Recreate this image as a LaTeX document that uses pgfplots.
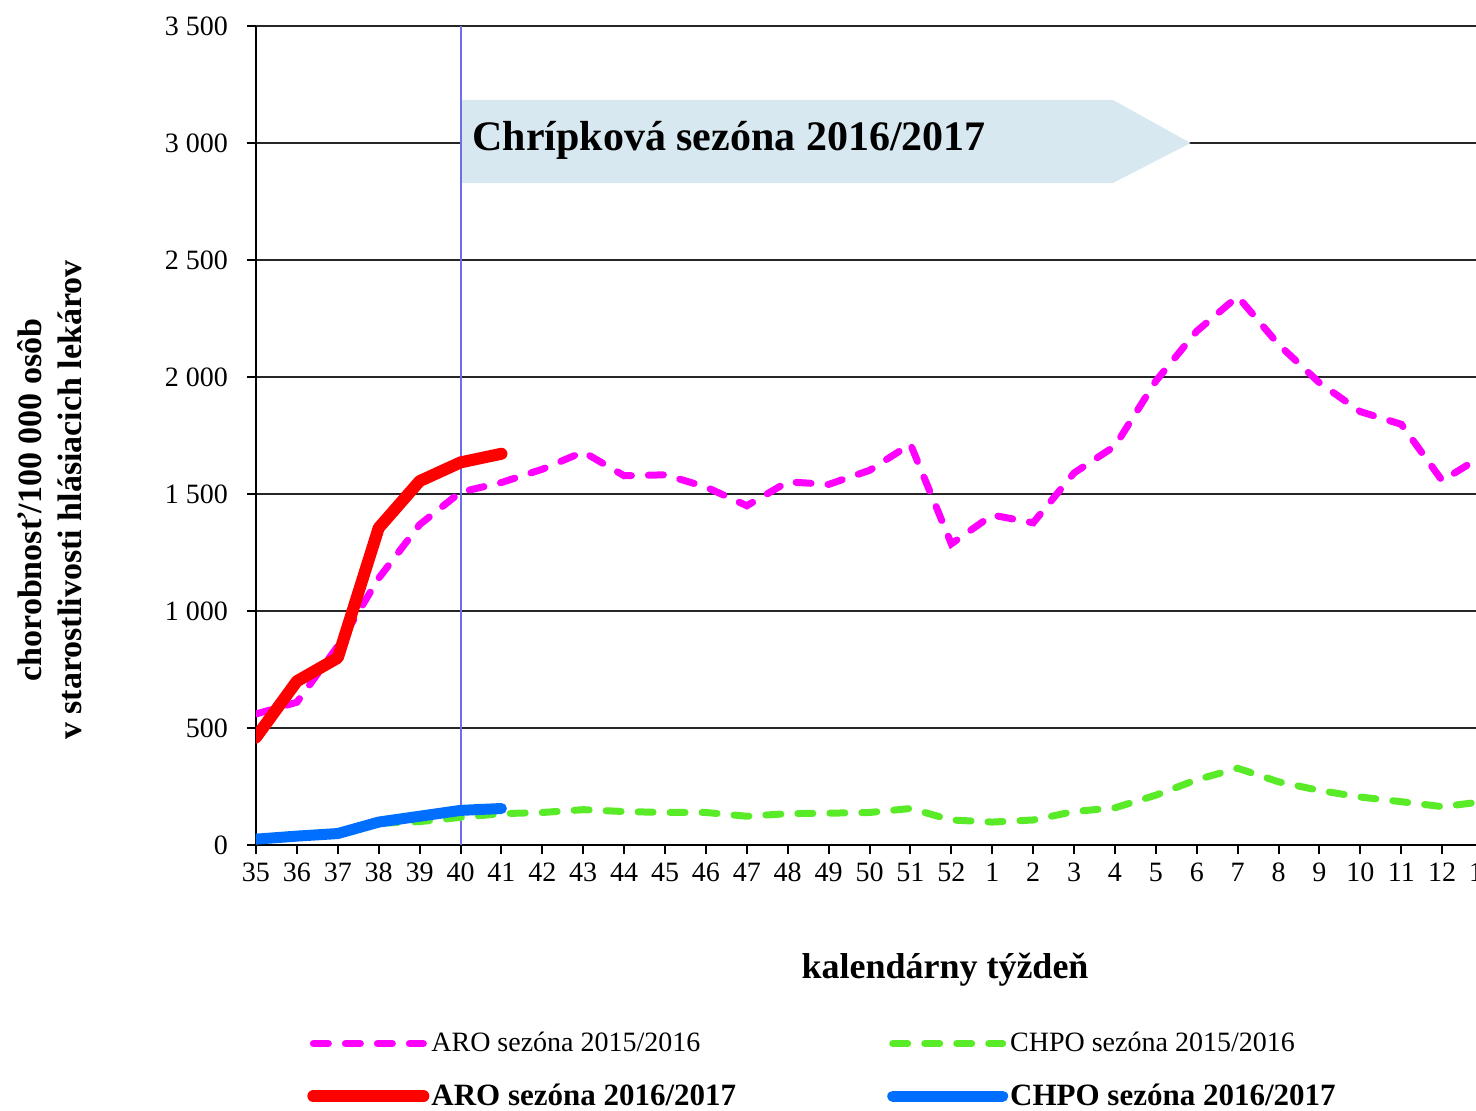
\documentclass[border=0pt]{standalone}
\usepackage{pgfplots}
\usepackage{pgfplotstable}
\pgfplotsset{compat=1.18}
\usepackage{fontspec}
\setmainfont{Liberation Serif}
\definecolor{aromag}{RGB}{255,0,255}
\definecolor{chpogreen}{RGB}{90,235,40}
\definecolor{arored}{RGB}{255,0,0}
\definecolor{chpoblue}{RGB}{0,110,255}
\definecolor{sezfill}{RGB}{215,232,240}
\definecolor{vline}{RGB}{110,110,230}
\pgfplotstableread{
idx aro chpo
0 560 30
1 610 40
2 850 50
3 1140 93
4 1369 100
5 1508 118
6 1549 134
7 1606 139
8 1680 151
9 1578 143
10 1582 139
11 1530 139
12 1450 123
13 1552 134
14 1541 136
15 1601 139
16 1713 156
17 1287 107
18 1410 98
19 1377 107
20 1590 143
21 1705 159
22 1983 213
23 2196 279
24 2344 328
25 2139 270
26 1975 233
27 1852 205
28 1798 185
29 1557 164
30 1665 185
}\prevseason
\pgfplotstableread{
idx aro chpo
0 460 25
1 700 38
2 800 49
3 1355 98
4 1555 123
5 1635 148
6 1672 156
}\curseason
\begin{document}
\begin{tikzpicture}
\begin{axis}[
  at={(0pt,0pt)}, anchor=south west,
  scale only axis, width=634pt, height=409.5pt,
  xmin=0, xmax=31, ymin=0, ymax=3500,
  axis x line*=bottom, axis y line*=left,
  axis line style={black, line width=1.3pt},
  xtick={0,...,30},
  xticklabels={35,36,37,38,39,40,41,42,43,44,45,46,47,48,49,50,51,52,1,2,3,4,5,6,7,8,9,10,11,12,13},
  ytick={0,500,...,3500},
  ymajorgrids, grid style={black!85, line width=1.1pt},
  tick align=outside, major tick length=4.5pt,
  tick style={black, line width=1pt},
  /pgf/number format/assume math mode=true,
  /pgf/number format/1000 sep={\ },
  tick label style={font=\fontsize{14}{16}\selectfont},
  yticklabel style={xshift=-6pt},
  xticklabel style={yshift=-1pt},
  xlabel={kalendárny týždeň},
  xlabel style={font=\fontsize{18}{20}\selectfont\bfseries, at={(axis description cs:0.5434,-0.1526)}, anchor=center},
  ylabel={chorobnosť/100 000 osôb\\v starostlivosti hlásiacich lekárov},
  ylabel style={font=\fontsize{17}{20}\selectfont\bfseries, align=center, at={(axis description cs:-0.1625,0.4212)}, anchor=center},
  legend columns=2,
  legend cell align=left,
  legend image code/.code={\draw[#1] (0pt,0pt) -- (55pt,0pt);},
  legend style={draw=none, fill=none, inner sep=0pt, at={(axis description cs:0.0402,-0.2234)}, anchor=north west, font=\fontsize{14}{16}\selectfont, row sep=10.5pt, /tikz/every odd column/.append style={column sep=-1pt}, /tikz/every even column/.append style={column sep=73.5pt}},
]
\fill[sezfill] (axis cs:5.02,2829) -- (axis cs:20.95,2829) -- (axis cs:22.85,3000) -- (axis cs:20.95,3184) -- (axis cs:5.02,3184) -- cycle;
\draw[vline, line width=1pt] (axis cs:5,0) -- (axis cs:5,3500);
\node[anchor=base west, inner sep=0pt, font=\fontsize{21}{24}\selectfont\bfseries] at (axis cs:5.28,2970) {Chrípková sezóna 2016/2017};
\addplot[aromag, line width=3.5pt, line cap=round, dash pattern=on 7.5pt off 8.5pt] table[x=idx,y=aro]{\prevseason};
\addlegendentry{ARO sezóna 2015/2016}
\addplot[chpogreen, line width=3.5pt, line cap=round, dash pattern=on 7.5pt off 8.5pt] table[x=idx,y=chpo]{\prevseason};
\addlegendentry{CHPO sezóna 2015/2016}
\addplot[arored, line width=6pt, line cap=round, line join=round] table[x=idx,y=aro]{\curseason};
\addlegendentry{\fontsize{15.5}{16}\selectfont\bfseries ARO sezóna 2016/2017}
\addplot[chpoblue, line width=5.5pt, line cap=round, line join=round] table[x=idx,y=chpo]{\curseason};
\addlegendentry{\fontsize{15.5}{16}\selectfont\bfseries CHPO sezóna 2016/2017}
\end{axis}
\pgfresetboundingbox
\path[use as bounding box] (-128pt,-132.5pt) rectangle (610pt,422.5pt);
\end{tikzpicture}
\end{document}
